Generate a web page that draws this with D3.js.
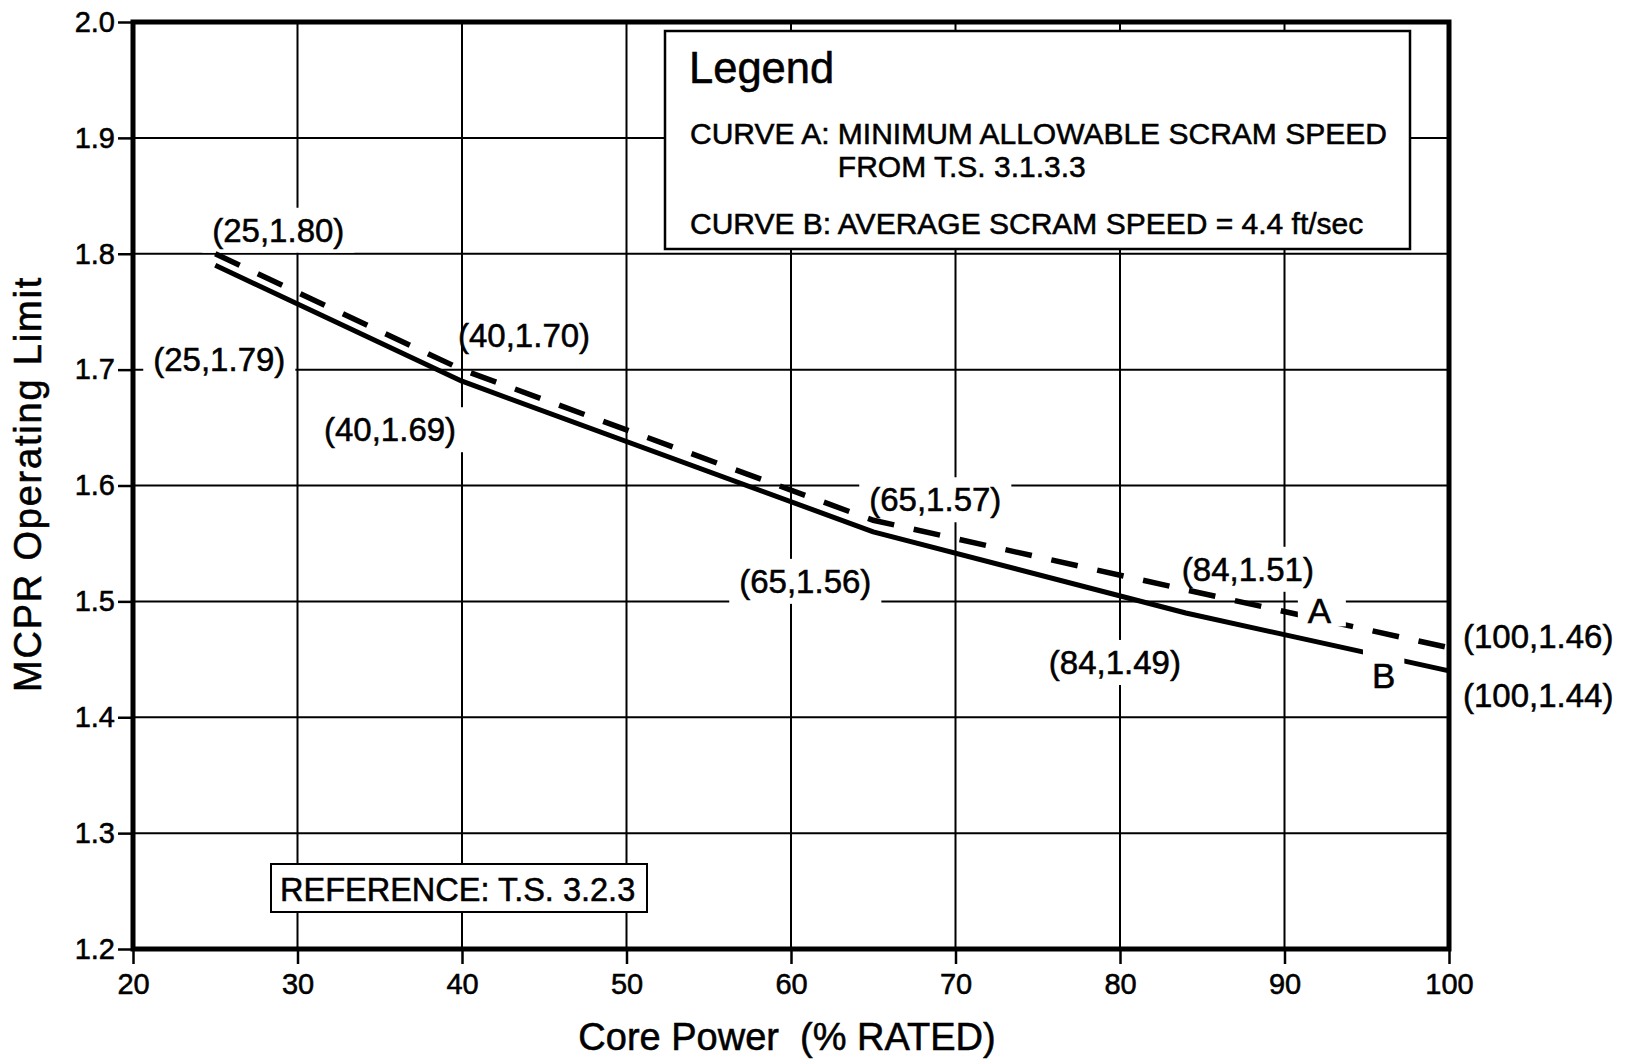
<!DOCTYPE html>
<html>
<head>
<meta charset="utf-8">
<script src="https://cdn.jsdelivr.net/npm/d3@7"></script>
<style>
  html, body { margin: 0; padding: 0; background: #fff; }
  svg { display: block; }
  text { font-family: "Liberation Sans", Arial, Helvetica, sans-serif; fill: #000; stroke: #000; stroke-width: 0.55px; }
</style>
</head>
<body>
<script>
// ---------------- data ----------------
const xTicks = [20, 30, 40, 50, 60, 70, 80, 90, 100];
const yTicks = [1.2, 1.3, 1.4, 1.5, 1.6, 1.7, 1.8, 1.9, 2.0];
const corePower = [25, 40, 65, 84, 100];
const curveA = [1.80, 1.70, 1.57, 1.51, 1.46];   // minimum allowable scram speed (dashed)
const curveB = [1.79, 1.69, 1.56, 1.49, 1.44];   // average scram speed (solid)
const xTitle = "Core Power  (% RATED)";
const yTitle = "MCPR Operating Limit";
const legendTitle = "Legend";
const legendA1 = "CURVE A: ";
const legendA2 = "MINIMUM ALLOWABLE SCRAM SPEED";
const legendA3 = "FROM T.S. 3.1.3.3";
const legendB = "CURVE B: AVERAGE SCRAM SPEED = 4.4 ft/sec";
const referenceText = "REFERENCE: T.S. 3.2.3";

// ---------------- layout (positions / styles) ----------------
const W = 1629, H = 1062;
const plot = { left: 133, right: 1449, top: 22, bottom: 949 };
const labelOffsetsA = [[-3, -12], [-4, -23], [-4, -9], [-4, -9], [14, 0]];
const labelOffsetsB = [[-62, 106], [-138, 60], [-134, 61], [-137, 61], [14, 36]];
const labelBgA = [true, false, true, true, false];
const labelBgB = [true, true, true, true, false];

const svg = d3.select("body").append("svg").attr("width", W).attr("height", H);

const x = d3.scaleLinear().domain([20, 100]).range([plot.left, plot.right]);
const y = d3.scaleLinear().domain([1.2, 2.0]).range([plot.bottom, plot.top]);

// grid
const grid = svg.append("g").attr("stroke", "#000").attr("stroke-width", 2);
grid.selectAll("line.v").data(xTicks.slice(1, -1)).join("line")
  .attr("x1", d => x(d)).attr("x2", d => x(d))
  .attr("y1", plot.top).attr("y2", plot.bottom);
grid.selectAll("line.h").data(yTicks.slice(1, -1)).join("line")
  .attr("y1", d => y(d)).attr("y2", d => y(d))
  .attr("x1", plot.left).attr("x2", plot.right);

// axes
const xAxis = svg.append("g").attr("transform", `translate(0,${plot.bottom})`)
  .call(d3.axisBottom(x).tickValues(xTicks).tickSize(15).tickPadding(9).tickFormat(d3.format("d")));
const yAxis = svg.append("g").attr("transform", `translate(${plot.left},0)`)
  .call(d3.axisLeft(y).tickValues(yTicks).tickSize(15).tickPadding(3).tickFormat(d3.format(".1f")));
[xAxis, yAxis].forEach(a => {
  a.select(".domain").remove();
  a.selectAll(".tick line").attr("stroke", "#000").attr("stroke-width", 2.5);
  a.selectAll(".tick text").attr("font-size", 29).attr("fill", "#000")
    .attr("font-family", "'Liberation Sans', Arial, sans-serif");
});

// layers
const bgLayer = svg.append("g");
const lineLayer = svg.append("g");
const frameLayer = svg.append("g");
const textLayer = svg.append("g");

const line = d3.line().x(d => x(d[0])).y(d => y(d[1]));
const ptsA = corePower.map((p, i) => [p, curveA[i]]);
const ptsB = corePower.map((p, i) => [p, curveB[i]]);

lineLayer.append("path").datum(ptsB).attr("d", line)
  .attr("fill", "none").attr("stroke", "#000").attr("stroke-width", 5)
  .attr("stroke-linejoin", "round");
lineLayer.append("path").datum(ptsA).attr("d", line)
  .attr("fill", "none").attr("stroke", "#000").attr("stroke-width", 5.5)
  .attr("stroke-dasharray", "27,20");

// frame
frameLayer.append("rect")
  .attr("x", plot.left).attr("y", plot.top)
  .attr("width", plot.right - plot.left).attr("height", plot.bottom - plot.top)
  .attr("fill", "none").attr("stroke", "#000").attr("stroke-width", 5);

function fmtLabel(p, v) { return `(${p},${v.toFixed(2)})`; }

function pointLabel(pts, offsets, bgs) {
  pts.forEach((d, i) => {
    const t = textLayer.append("text")
      .attr("x", x(d[0]) + offsets[i][0])
      .attr("y", y(d[1]) + offsets[i][1])
      .attr("font-size", 33)
      .text(fmtLabel(d[0], d[1]));
    if (bgs[i]) {
      const b = t.node().getBBox();
      bgLayer.append("rect")
        .attr("x", b.x - 10).attr("y", b.y - 4)
        .attr("width", b.width + 20).attr("height", b.height + 8)
        .attr("fill", "#fff");
    }
  });
}
pointLabel(ptsA, labelOffsetsA, labelBgA);
pointLabel(ptsB, labelOffsetsB, labelBgB);

// curve letters A and B with backgrounds that break the curves
function curveLetter(txt, px, py, padL, padR, topAdj) {
  const t = textLayer.append("text").attr("x", px).attr("y", py)
    .attr("font-size", 35).text(txt);
  const b = t.node().getBBox();
  frameLayer.append("rect")
    .attr("x", b.x - padL).attr("y", b.y + topAdj)
    .attr("width", b.width + padL + padR).attr("height", b.height - 4 - topAdj)
    .attr("fill", "#fff");
}
curveLetter("A", x(89.9) + 25, y(1.5) + 22, 10, 14, 4);
curveLetter("B", x(95.5) - 3, y(1.44) + 17, 9, 9, -8);

// y title
svg.append("text")
  .attr("transform", `translate(41,484) rotate(-90)`)
  .attr("text-anchor", "middle")
  .attr("font-size", 38).attr("letter-spacing", 1.8)
  .text(yTitle);

// x title
svg.append("text")
  .attr("x", 787).attr("y", 1050)
  .attr("text-anchor", "middle")
  .attr("font-size", 38)
  .style("white-space", "pre")
  .text(xTitle);

// legend box
const lg = svg.append("g");
lg.append("rect").attr("x", 665).attr("y", 31).attr("width", 745).attr("height", 218)
  .attr("fill", "#fff").attr("stroke", "#000").attr("stroke-width", 2.5);
lg.append("text").attr("x", 689).attr("y", 83).attr("font-size", 43.5).text(legendTitle);
const la = lg.append("text").attr("x", 690).attr("y", 144).attr("font-size", 30)
  .style("white-space", "pre");
const la1 = la.append("tspan").text(legendA1);
la.append("tspan").text(legendA2);
const indent = la1.node().getComputedTextLength();
lg.append("text").attr("x", 690 + indent).attr("y", 177).attr("font-size", 30).text(legendA3);
lg.append("text").attr("x", 690).attr("y", 234).attr("font-size", 30).text(legendB);

// reference box
const rg = svg.append("g");
rg.append("rect").attr("x", 271).attr("y", 864).attr("width", 376).attr("height", 48)
  .attr("fill", "#fff").attr("stroke", "#000").attr("stroke-width", 2);
rg.append("text").attr("x", 280).attr("y", 901).attr("font-size", 32.5).text(referenceText);
</script>
</body>
</html>
